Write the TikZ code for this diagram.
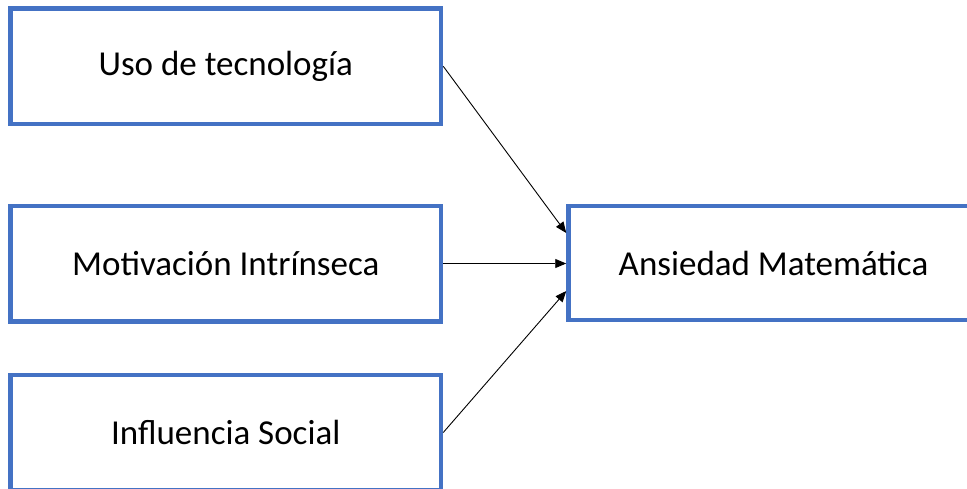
\documentclass[tikz,border=0pt]{standalone}
\usepackage{fontspec}
\setmainfont{Carlito}
\usetikzlibrary{arrows.meta}
\definecolor{boxblue}{HTML}{4472C4}
\begin{document}
\begin{tikzpicture}[x=1pt,y=-1pt,
  box/.style={draw=boxblue,line width=4.5pt,rectangle,inner sep=0pt,
    minimum width=430.5pt,minimum height=115.5pt,
    font=\fontsize{35}{42}\selectfont},
  conn/.style={line width=0.9pt,-{Triangle[length=11pt,width=9pt]}}]
\useasboundingbox (0,0) rectangle (967,488);
\node[box] (a) at (225.75,66.25) {Uso de tecnología};
\node[box] (b) at (225.75,263.5) {Motivación Intrínseca};
\node[box] (c) at (225.75,432.5) {Influencia Social};
\node[box,minimum width=410pt,minimum height=114pt] (r) at (773.5,263) {Ansiedad Matemática};
\draw[conn] (a.east) -- ([yshift=30pt]r.west);
\draw[conn] (b.east) -- (b.east -| r.west);
\draw[conn] (c.east) -- ([yshift=-28pt]r.west);
\end{tikzpicture}
\end{document}
